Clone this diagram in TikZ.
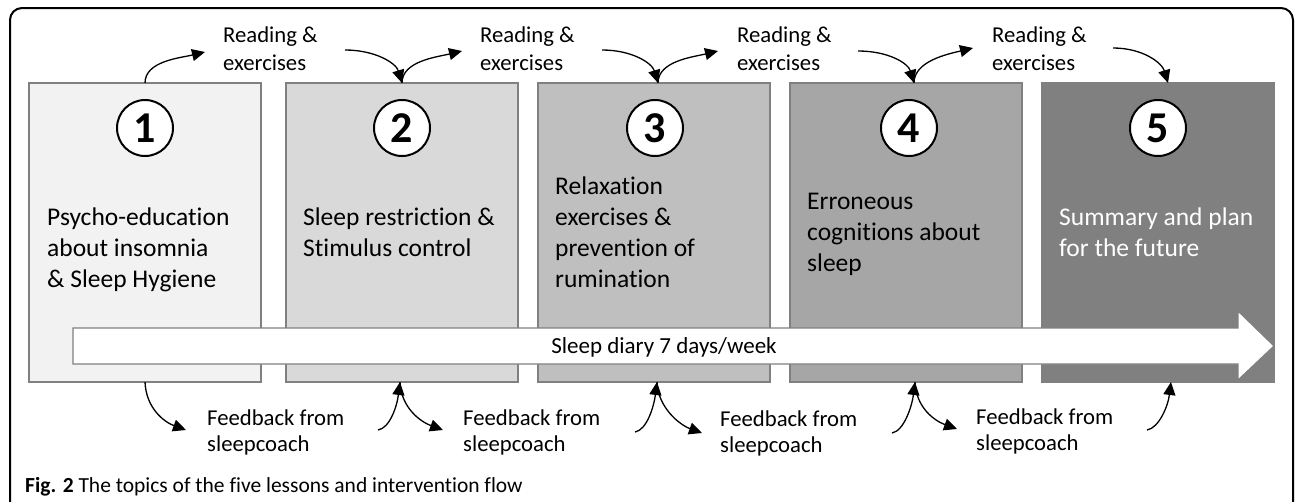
\documentclass[tikz,border=0pt]{standalone}
\usepackage{fontspec}
\setmainfont[Ligatures=NoCommon]{Carlito}
\usetikzlibrary{arrows.meta,calc}
\definecolor{boxline}{HTML}{808080}
\definecolor{fillA}{HTML}{F2F2F2}
\definecolor{fillB}{HTML}{D9D9D9}
\definecolor{fillC}{HTML}{BFBFBF}
\definecolor{fillD}{HTML}{A6A6A6}
\definecolor{fillE}{HTML}{808080}
\begin{document}
\begin{tikzpicture}[x=1pt,y=-1pt,
  lesson/.style={draw=boxline,line width=1.3pt,minimum width=232pt,minimum height=299pt,inner sep=0pt,outer sep=0pt,anchor=north west},
  numcirc/.style={circle,draw=black,line width=2pt,fill=white,minimum size=56pt,inner sep=0pt,font=\fontsize{44}{44}\selectfont\bfseries},
  bodytext/.style={anchor=base west,inner sep=0pt,font=\fontsize{25.5}{31}\selectfont},
  readlbl/.style={anchor=base west,inner sep=0pt,font=\fontsize{22.7}{28}\selectfont},
  feedlbl/.style={anchor=base west,inner sep=0pt,font=\fontsize{22.7}{26.5}\selectfont},
  flow/.style={-{Triangle[length=13pt,width=12pt]},line width=1.3pt},
]
\useasboundingbox (0,0) rectangle (1295,501);
\begin{scope}
\clip (0,0) rectangle (1295,501);
\draw[line width=2pt,rounded corners=12pt] (10,530) -- (10,8) -- (1293,8) -- (1293,530);
\end{scope}

% lesson boxes
\node[lesson,fill=fillA] (b1) at (29,83) {};
\node[lesson,fill=fillB] (b2) at (286,83) {};
\node[lesson,fill=fillC] (b3) at (538,83) {};
\node[lesson,fill=fillD] (b4) at (790,83) {};
\node[lesson,fill=fillE] (b5) at (1042,83) {};

% numbers
\node[numcirc] (n1) at (145,128) {1};
\node[numcirc] (n2) at (402,128) {2};
\node[numcirc] (n3) at (655,128) {3};
\node[numcirc] (n4) at (909,128) {4};
\node[numcirc] (n5) at (1158,128) {5};

% body texts
\node[bodytext] (t1) at (47,225) {\begin{tabular}[t]{@{}l@{}}Psycho-education\\about insomnia\\\& Sleep Hygiene\end{tabular}};
\node[bodytext] (t2) at (303,225) {\begin{tabular}[t]{@{}l@{}}Sleep restriction \&\\Stimulus control\end{tabular}};
\node[bodytext] (t3) at (555,194) {\begin{tabular}[t]{@{}l@{}}Relaxation\\exercises \&\\prevention of\\rumination\end{tabular}};
\node[bodytext] (t4) at (807,209) {\begin{tabular}[t]{@{}l@{}}Erroneous\\cognitions about\\sleep\end{tabular}};
\node[bodytext,text=white] (t5) at (1059,225) {\begin{tabular}[t]{@{}l@{}}Summary and plan\\for the future\end{tabular}};

% sleep diary arrow
\draw[draw=boxline,line width=1.2pt,fill=white] (73,328) -- (1238,328) -- (1238,311) -- (1274,346) -- (1238,380) -- (1238,364) -- (73,364) -- cycle;
\node[anchor=base,inner sep=0pt,font=\fontsize{23}{28}\selectfont] (diary) at (664,353) {Sleep diary 7 days/week};

% reading labels
\node[readlbl] (r1) at (223,42) {\begin{tabular}[t]{@{}l@{}}Reading \&\\exercises\end{tabular}};
\node[readlbl] (r2) at (480,42) {\begin{tabular}[t]{@{}l@{}}Reading \&\\exercises\end{tabular}};
\node[readlbl] (r3) at (737,42) {\begin{tabular}[t]{@{}l@{}}Reading \&\\exercises\end{tabular}};
\node[readlbl] (r4) at (992,42) {\begin{tabular}[t]{@{}l@{}}Reading \&\\exercises\end{tabular}};

% feedback labels
\node[feedlbl] (f1) at (207,425) {\begin{tabular}[t]{@{}l@{}}Feedback from\\sleepcoach\end{tabular}};
\node[feedlbl] (f2) at (463,425) {\begin{tabular}[t]{@{}l@{}}Feedback from\\sleepcoach\end{tabular}};
\node[feedlbl] (f3) at (720,426) {\begin{tabular}[t]{@{}l@{}}Feedback from\\sleepcoach\end{tabular}};
\node[feedlbl] (f4) at (976,424) {\begin{tabular}[t]{@{}l@{}}Feedback from\\sleepcoach\end{tabular}};

% free ends of connectors
\coordinate (ua1) at (205,52);  \coordinate (ub1) at (345,50);
\coordinate (ua2) at (462,51);  \coordinate (ub2) at (602,50);
\coordinate (ua3) at (718,51);  \coordinate (ub3) at (858,51);
\coordinate (ua4) at (973,48);  \coordinate (ub4) at (1113,48);
\coordinate (la1) at (186,430); \coordinate (lb1) at (378,430);
\coordinate (la2) at (443,430); \coordinate (lb2) at (635,432);
\coordinate (la3) at (702,433); \coordinate (lb3) at (892,433);
\coordinate (la4) at (957,429); \coordinate (lb4) at (1147,430);

% attachment points on boxes
\coordinate (tp1) at ($(b1.north)+(0,0)$);  \coordinate (bt1) at ($(b1.south)+(0,0)$);
\coordinate (tp2) at ($(b2.north)+(0,0)$);  \coordinate (bt2) at ($(b2.south)+(-2,0)$);
\coordinate (tp3) at ($(b3.north)+(4,0)$);  \coordinate (bt3) at ($(b3.south)+(3,0)$);
\coordinate (tp4) at ($(b4.north)+(8,0)$);  \coordinate (bt4) at ($(b4.south)+(9,0)$);
\coordinate (tp5) at ($(b5.north)+(10,0)$); \coordinate (bt5) at ($(b5.south)+(13,0)$);

% top connectors
\foreach \i/\j in {1/2,2/3,3/4,4/5}{
  \draw[flow] (tp\i) .. controls +(0,-22) and +(-25,6) .. (ua\i);
  \draw[flow] (ub\i) .. controls +(30,0) and +(-6,-20) .. (tp\j);
}
% bottom connectors
\foreach \i/\j in {1/2,2/3,3/4,4/5}{
  \draw[flow] (bt\i) .. controls +(1,26) and +(-22,-8) .. (la\i);
  \draw[flow] (lb\i) .. controls +(12,-2) and +(-3,24) .. (bt\j);
}

% caption
\node[anchor=base west,inner sep=0pt,font=\fontsize{21.5}{26}\selectfont] (cap) at (25,492) {\textbf{Fig. 2} The topics of the five lessons and intervention flow};
\end{tikzpicture}
\end{document}
